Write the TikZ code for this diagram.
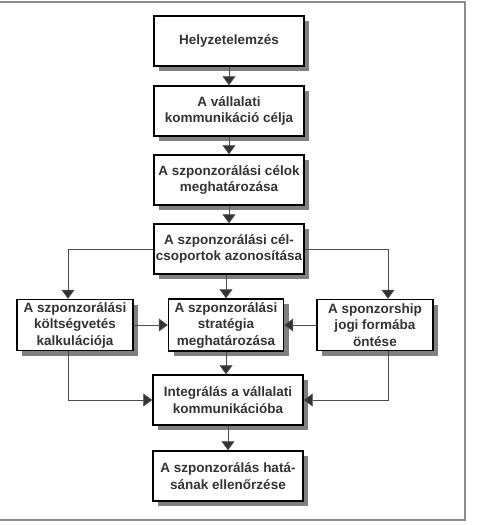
\documentclass[tikz,border=0pt]{standalone}
\usepackage{fontspec}
\setmainfont{Liberation Sans}
\usetikzlibrary{arrows.meta,shadows}

\begin{document}
\begin{tikzpicture}[x=1pt, y=-1pt,
  box/.style={draw, line width=1.4pt, fill=white, align=center,
    minimum width=150pt, minimum height=50pt, inner sep=2pt,
    font=\bfseries\fontsize{13.5}{16.5}\selectfont, text=black!80,
    drop shadow={shadow xshift=5pt, shadow yshift=-5pt, fill=black!50, opacity=1}},
  sidebox/.style={box, minimum width=116pt, minimum height=51pt},
  pointer/.style={draw=black!70, line width=0.8pt,
    -{Triangle[length=9pt, width=13pt, fill=black!80]}}
]
\useasboundingbox (0,0) rectangle (481,525);

% Frame
\draw[black!45, line width=1.5pt] (0,2) -- (465,2) -- (465,520) -- (0,520);

% Nodes
\node[box] (helyzet) at (229,41) {Helyzetelemzés};
\node[box] (cel) at (229,111) {A vállalati\\kommunikáció célja};
\node[box] (celok) at (229,180) {A szponzorálási célok\\meghatározása};
\node[box] (csoport) at (229,249) {A szponzorálási cél-\\csoportok azonosítása};
\node[sidebox] (koltseg) at (75,325) {A szponzorálási\\költségvetés\\kalkulációja};
\node[sidebox, minimum width=115pt, minimum height=52pt] (strat) at (226,325) {A szponzorálási\\stratégia\\meghatározása};
\node[sidebox] (jogi) at (375,325) {A sponzorship\\jogi formába\\öntése};
\node[box] (integr) at (228,400) {Integrálás a vállalati\\kommunikációba};
\node[box] (hatas) at (228,476) {A szponzorálás hatá-\\sának ellenőrzése};

\coordinate (lx) at (68,0);
\coordinate (rx) at (388,0);

% Arrows down the middle
\draw[pointer] (helyzet) -- (cel);
\draw[pointer] (cel) -- (celok);
\draw[pointer] (celok) -- (csoport);
\draw[pointer] (strat.north |- csoport.south) -- (strat.north);
\draw[pointer] (strat.south) -- (strat.south |- integr.north);
\draw[pointer] (integr) -- (hatas);

% Side branches
\draw[pointer] (csoport.west) -| (lx |- koltseg.north);
\draw[pointer] (csoport.east) -| (rx |- jogi.north);
\draw[pointer] (koltseg) -- (strat);
\draw[pointer] (jogi) -- (strat);
\draw[pointer] (lx |- koltseg.south) |- (integr.west);
\draw[pointer] (rx |- jogi.south) |- (integr.east);

\end{tikzpicture}
\end{document}
